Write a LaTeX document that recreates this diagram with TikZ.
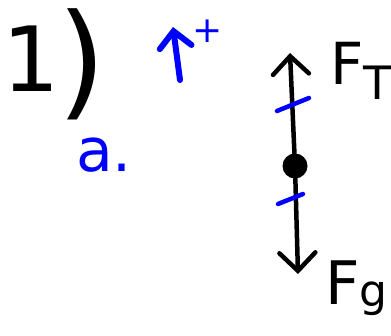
\documentclass[tikz,border=0pt]{standalone}
\usepackage{fontspec}
\setmainfont{DejaVu Sans}
\usetikzlibrary{arrows.meta}
\begin{document}
\begin{tikzpicture}[x=1pt,y=-1pt,
  ink/.style={line width=4.5pt,line cap=round,line join=round},
  vec/.style={ink,-{Straight Barb[length=18pt,width=36pt,line cap=round]}},
  bvec/.style={ink,line width=6pt,blue,-{Straight Barb[length=16pt,width=32pt,line cap=round]}},
  tick/.style={ink,blue},
  lbl/.style={inner sep=0pt,anchor=base west}]
\useasboundingbox (0,0) rectangle (391,336);
% heading
\node[lbl] (num) at (2,92) {\fontsize{90}{90}\selectfont 1\hspace{-2pt}\raisebox{-12pt}{\fontsize{125}{125}\selectfont )}};
\node[lbl,text=blue] (part) at (76,172) {\fontsize{60}{60}\selectfont a.};
% positive direction arrow
\coordinate (ps) at (180,80);
\coordinate (pe) at (173,27);
\draw[bvec] (ps) -- (pe);
\node[lbl,text=blue] (plus) at (192,43) {\fontsize{36}{36}\selectfont +};
% body and forces
\node[circle,fill=black,inner sep=0pt,minimum size=25pt] (m) at (295,166) {};
\coordinate (tu) at (290,53);
\coordinate (td) at (298,274);
\draw[vec] (m) -- (tu);
\draw[vec] (m) -- (td);
\draw[tick] (277,111) -- (309,98);
\draw[tick] (278,204) -- (303,194);
\node[lbl] (FT) at (330,85) {\fontsize{58}{58}\selectfont F\raisebox{-15pt}{\fontsize{46}{46}\selectfont T}};
\node[lbl] (Fg) at (325,305) {\fontsize{60}{60}\selectfont F\raisebox{-2pt}{\fontsize{44}{44}\selectfont g}};
\end{tikzpicture}
\end{document}
